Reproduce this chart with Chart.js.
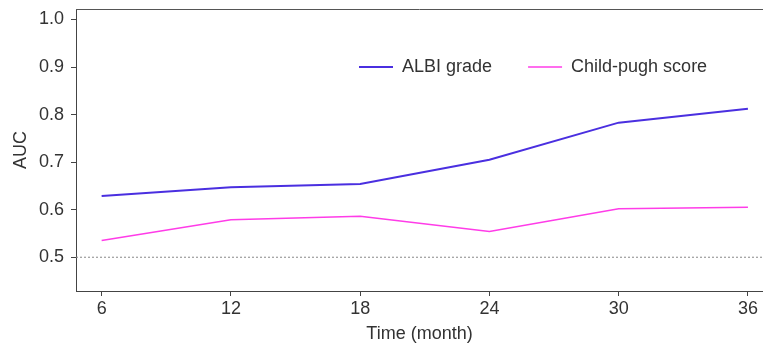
<!DOCTYPE html>
<html>
<head>
<meta charset="utf-8">
<script src="https://cdn.jsdelivr.net/npm/chart.js@4"></script>
<style>
  body { margin: 0; background: #fff; }
</style>
</head>
<body>
<canvas id="graph" width="763" height="348"></canvas>
<script>
const months = [6, 12, 18, 24, 30, 36]
const albiGrade = [0.629, 0.647, 0.654, 0.705, 0.783, 0.812]
const childPugh = [0.535, 0.579, 0.586, 0.554, 0.602, 0.605]
const refAuc = 0.5
const xTicks = [6, 12, 18, 24, 30, 36]
const yTicks = [0.5, 0.6, 0.7, 0.8, 0.9, 1.0]

const X_MIN = 4.81, X_MAX = 36.7

Chart.defaults.font.family = '"Liberation Sans", Arial, sans-serif'
Chart.defaults.font.size = 18
Chart.defaults.color = '#333'

// legend sits inside the plot, so it takes no room in the layout
const insideLegend = {
  id: 'insideLegend',
  beforeInit(chart) {
    const lg = chart.legend
    const fit = lg.fit
    lg.fit = function () { fit.call(this); this.height = 0 }
  },
  afterLayout(chart) {
    const lg = chart.legend
    lg.left = 323
    lg.right = 763
    lg.top = 22
    lg.bottom = 120
  }
}

// top edge of the box
const frame = {
  id: 'frame',
  afterDraw(chart) {
    const { ctx, chartArea: a } = chart
    ctx.save()
    ctx.strokeStyle = '#555'
    ctx.lineWidth = 1
    ctx.beginPath()
    ctx.moveTo(a.left, a.top + 0.5)
    ctx.lineTo(a.right, a.top + 0.5)
    ctx.stroke()
    ctx.restore()
  }
}

const chart = new Chart(
  document.getElementById('graph'),
  {
    type: 'line',
    plugins: [insideLegend, frame],
    data: {
      datasets: [
        {
          label: 'ALBI grade',
          data: months.map((m, i) => ({ x: m, y: albiGrade[i] })),
          borderColor: '#4a2fe0',
          backgroundColor: '#4a2fe0',
          borderWidth: 2,
          pointRadius: 0,
          tension: 0
        },
        {
          label: 'Child-pugh score',
          data: months.map((m, i) => ({ x: m, y: childPugh[i] })),
          borderColor: '#ff3ce8',
          backgroundColor: '#ff3ce8',
          borderWidth: 1.5,
          pointRadius: 0,
          tension: 0
        },
        {
          label: 'ref',
          data: [{ x: X_MIN, y: refAuc }, { x: X_MAX, y: refAuc }],
          borderColor: '#888',
          borderWidth: 1,
          borderDash: [2, 2],
          pointRadius: 0
        }
      ]
    },
    options: {
      responsive: false,
      animation: false,
      devicePixelRatio: 1,
      layout: { padding: { top: 9, right: 0, left: 0, bottom: 0 } },
      plugins: {
        tooltip: { enabled: false },
        legend: {
          position: 'top',
          align: 'start',
          labels: {
            filter: item => item.text !== 'ref',
            usePointStyle: true,
            pointStyle: 'line',
            pointStyleWidth: 34,
            padding: 36,
            color: '#333',
            font: { size: 18 }
          }
        }
      },
      scales: {
        x: {
          type: 'linear',
          min: X_MIN,
          max: X_MAX,
          afterBuildTicks: axis => { axis.ticks = xTicks.map(v => ({ value: v })) },
          afterFit: axis => { axis.height = 57 },
          grid: { drawOnChartArea: false, tickLength: 5, color: '#444' },
          border: { color: '#444', width: 1 },
          ticks: { padding: 2, color: '#333' },
          title: { display: true, text: 'Time (month)', color: '#333', padding: { top: 0, bottom: 3 } }
        },
        y: {
          min: 0.429,
          max: 1.022,
          afterBuildTicks: axis => { axis.ticks = yTicks.map(v => ({ value: v })) },
          afterFit: axis => { axis.width = 76; axis.paddingTop = 0; axis.paddingBottom = 0 },
          grid: { drawOnChartArea: false, tickLength: 5, color: '#444' },
          border: { color: '#444', width: 1 },
          ticks: { padding: 7, color: '#333', callback: v => v.toFixed(1) },
          title: { display: true, text: 'AUC', color: '#333', padding: { top: 10, bottom: 0 } }
        }
      }
    }
  }
)
</script>
</body>
</html>
